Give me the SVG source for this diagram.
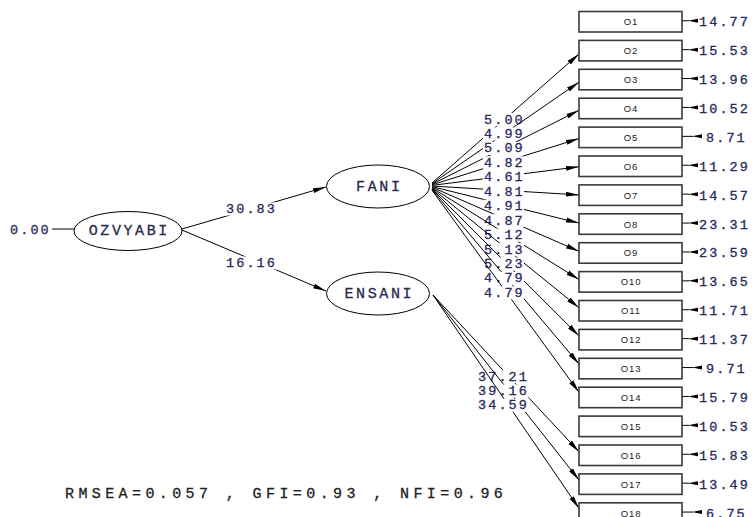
<svg xmlns="http://www.w3.org/2000/svg" width="753" height="517" viewBox="0 0 753 517">
  <style>
    .bg{fill:#ffffff}
    .ell{fill:#ffffff;stroke:#000;stroke-width:1}
    .box{fill:#ffffff;stroke:#3a3a3a;stroke-width:1.6}
    .ln{stroke:#000;stroke-width:1;fill:none}
    .lb{fill:#ffffff}
    .num{font-family:"Liberation Mono","Courier New",monospace;font-size:13.5px;letter-spacing:2.1px;fill:#2a2a5a;stroke:#2a2a5a;stroke-width:0.3px}
    .var{font-family:"Liberation Mono","Courier New",monospace;font-size:15px;letter-spacing:2.6px;fill:#2a2a4a;stroke:#2a2a4a;stroke-width:0.3px}
    .obs{font-family:"Liberation Sans",Arial,sans-serif;font-size:9.5px;letter-spacing:0.9px;fill:#222;text-anchor:middle}
    .fit{font-family:"Liberation Mono","Courier New",monospace;font-size:15px;letter-spacing:4.4px;fill:#222;stroke:#222;stroke-width:0.3px}
    .eh{fill:#000}
  </style>
  <defs>
    <marker id="ah" viewBox="0 0 13 6" refX="13" refY="3" markerWidth="13" markerHeight="6" markerUnits="userSpaceOnUse" orient="auto">
      <path d="M0,0.5 L13,3 L0,5.5 z" fill="#000"/>
    </marker>
  </defs>
  <rect class="bg" x="0" y="0" width="753" height="517"/>

  <!-- connectors: each path is drawn with its label on top, in order -->
  <g id="connectors">
    <line class="ln" x1="52" y1="229" x2="74" y2="229"/>
    <g><line class="ln" x1="182" y1="229" x2="326" y2="187" marker-end="url(#ah)"/>
      <rect class="lb" x="225" y="202.5" width="53" height="13"/>
      <text class="num" x="226" y="213">30.83</text></g>
    <g><line class="ln" x1="182" y1="230" x2="326" y2="291" marker-end="url(#ah)"/>
      <rect class="lb" x="225" y="256.5" width="53" height="13"/>
      <text class="num" x="226" y="267">16.16</text></g>

    <!-- FANI loadings -->
    <g><line class="ln" x1="432" y1="183" x2="579" y2="53.96" marker-end="url(#ah)"/>
      <rect class="lb" x="483" y="113" width="41" height="13"/><text class="num" x="484" y="123.5">5.00</text></g>
    <g><line class="ln" x1="432" y1="183.6" x2="579" y2="82.15" marker-end="url(#ah)"/>
      <rect class="lb" x="483" y="127.45" width="41" height="13"/><text class="num" x="484" y="137.95">4.99</text></g>
    <g><line class="ln" x1="432" y1="184.2" x2="579" y2="110.34" marker-end="url(#ah)"/>
      <rect class="lb" x="483" y="141.9" width="41" height="13"/><text class="num" x="484" y="152.4">5.09</text></g>
    <g><line class="ln" x1="432" y1="184.8" x2="579" y2="138.54" marker-end="url(#ah)"/>
      <rect class="lb" x="483" y="156.35" width="41" height="13"/><text class="num" x="484" y="166.85">4.82</text></g>
    <g><line class="ln" x1="432" y1="185.4" x2="579" y2="166.73" marker-end="url(#ah)"/>
      <rect class="lb" x="483" y="170.8" width="41" height="13"/><text class="num" x="484" y="181.3">4.61</text></g>
    <g><line class="ln" x1="432" y1="186" x2="579" y2="194.92" marker-end="url(#ah)"/>
      <rect class="lb" x="483" y="185.25" width="41" height="13"/><text class="num" x="484" y="195.75">4.81</text></g>
    <g><line class="ln" x1="432" y1="186.6" x2="579" y2="223.11" marker-end="url(#ah)"/>
      <rect class="lb" x="483" y="199.7" width="41" height="13"/><text class="num" x="484" y="210.2">4.91</text></g>
    <g><line class="ln" x1="432" y1="187.2" x2="579" y2="251.31" marker-end="url(#ah)"/>
      <rect class="lb" x="483" y="214.15" width="41" height="13"/><text class="num" x="484" y="224.65">4.87</text></g>
    <g><line class="ln" x1="432" y1="187.8" x2="579" y2="279.5" marker-end="url(#ah)"/>
      <rect class="lb" x="483" y="228.6" width="41" height="13"/><text class="num" x="484" y="239.1">5.12</text></g>
    <g><line class="ln" x1="432" y1="188.4" x2="579" y2="307.69" marker-end="url(#ah)"/>
      <rect class="lb" x="483" y="243.05" width="41" height="13"/><text class="num" x="484" y="253.55">5.13</text></g>
    <g><line class="ln" x1="432" y1="189" x2="579" y2="335.88" marker-end="url(#ah)"/>
      <rect class="lb" x="483" y="257.5" width="41" height="13"/><text class="num" x="484" y="268">5.23</text></g>
    <g><line class="ln" x1="432" y1="189.6" x2="579" y2="364.08" marker-end="url(#ah)"/>
      <rect class="lb" x="483" y="271.95" width="41" height="13"/><text class="num" x="484" y="282.45">4.79</text></g>
    <g><line class="ln" x1="432" y1="190.2" x2="579" y2="392.27" marker-end="url(#ah)"/>
      <rect class="lb" x="483" y="286.4" width="41" height="13"/><text class="num" x="484" y="296.9">4.79</text></g>

    <!-- ENSANI loadings -->
    <g><line class="ln" x1="433" y1="295" x2="579" y2="451.7" marker-end="url(#ah)"/>
      <rect class="lb" x="477" y="370.2" width="53" height="13"/><text class="num" x="478" y="380.7">37.21</text></g>
    <g><line class="ln" x1="433" y1="295" x2="579" y2="480" marker-end="url(#ah)"/>
      <rect class="lb" x="477" y="384.5" width="53" height="13"/><text class="num" x="478" y="395">39.16</text></g>
    <g><line class="ln" x1="433" y1="295" x2="579" y2="508.3" marker-end="url(#ah)"/>
      <rect class="lb" x="477" y="398.8" width="53" height="13"/><text class="num" x="478" y="409.3">34.59</text></g>

    <!-- error terms -->
    <g id="errors">
      <path class="ln" d="M682,20.75H689 M682,49.65H689 M682,78.55H689 M682,107.45H689 M682,136.35H693 M682,165.25H689 M682,194.15H689 M682,223.05H689 M682,251.95H689 M682,280.85H689 M682,309.75H689 M682,338.65H689 M682,367.55H693 M682,396.45H689 M682,425.35H689 M682,454.25H689 M682,483.15H689 M682,512.05H693"/>
      <path class="eh" d="M688,20.75L698,18.75V22.75z M688,49.65L698,47.65V51.65z M688,78.55L698,76.55V80.55z M688,107.45L698,105.45V109.45z M692,136.35L702,134.35V138.35z M688,165.25L698,163.25V167.25z M688,194.15L698,192.15V196.15z M688,223.05L698,221.05V225.05z M688,251.95L698,249.95V253.95z M688,280.85L698,278.85V282.85z M688,309.75L698,307.75V311.75z M688,338.65L698,336.65V340.65z M692,367.55L702,365.55V369.55z M688,396.45L698,394.45V398.45z M688,425.35L698,423.35V427.35z M688,454.25L698,452.25V456.25z M688,483.15L698,481.15V485.15z M692,512.05L702,510.05V514.05z"/>
      <text class="num" x="699" y="26.25">14.77</text>
      <text class="num" x="699" y="55.15">15.53</text>
      <text class="num" x="699" y="84.05">13.96</text>
      <text class="num" x="699" y="112.95">10.52</text>
      <text class="num" x="706" y="141.85">8.71</text>
      <text class="num" x="699" y="170.75">11.29</text>
      <text class="num" x="699" y="199.65">14.57</text>
      <text class="num" x="699" y="228.55">23.31</text>
      <text class="num" x="699" y="257.45">23.59</text>
      <text class="num" x="699" y="286.35">13.65</text>
      <text class="num" x="699" y="315.25">11.71</text>
      <text class="num" x="699" y="344.15">11.37</text>
      <text class="num" x="706" y="373.05">9.71</text>
      <text class="num" x="699" y="401.95">15.79</text>
      <text class="num" x="699" y="430.85">10.53</text>
      <text class="num" x="699" y="459.75">15.83</text>
      <text class="num" x="699" y="488.65">13.49</text>
      <text class="num" x="706" y="517.55">6.75</text>
    </g>
  </g>

  <!-- latent variables -->
  <g id="OZVYABI"><ellipse class="ell" cx="128" cy="231" rx="54" ry="19.5"/><text class="var" x="128" y="235" text-anchor="middle" dx="1.3">OZVYABI</text></g>
  <text class="num" x="10" y="234">0.00</text>
  <g id="FANI"><ellipse class="ell" cx="378" cy="186.5" rx="51.5" ry="21.5"/><text class="var" x="378" y="191" text-anchor="middle" dx="1.3">FANI</text></g>
  <g id="ENSANI"><ellipse class="ell" cx="378" cy="293.5" rx="51.5" ry="21.5"/><text class="var" x="378" y="298" text-anchor="middle" dx="1.3">ENSANI</text></g>

  <!-- observed variables -->
  <g id="O1"><rect class="box" x="579" y="11.5" width="103" height="20.5"/><text class="obs" x="631" y="25.2">O1</text></g>
  <g id="O2"><rect class="box" x="579" y="40.4" width="103" height="20.5"/><text class="obs" x="631" y="54.1">O2</text></g>
  <g id="O3"><rect class="box" x="579" y="69.3" width="103" height="20.5"/><text class="obs" x="631" y="83">O3</text></g>
  <g id="O4"><rect class="box" x="579" y="98.2" width="103" height="20.5"/><text class="obs" x="631" y="111.9">O4</text></g>
  <g id="O5"><rect class="box" x="579" y="127.1" width="103" height="20.5"/><text class="obs" x="631" y="140.8">O5</text></g>
  <g id="O6"><rect class="box" x="579" y="156" width="103" height="20.5"/><text class="obs" x="631" y="169.7">O6</text></g>
  <g id="O7"><rect class="box" x="579" y="184.9" width="103" height="20.5"/><text class="obs" x="631" y="198.6">O7</text></g>
  <g id="O8"><rect class="box" x="579" y="213.8" width="103" height="20.5"/><text class="obs" x="631" y="227.5">O8</text></g>
  <g id="O9"><rect class="box" x="579" y="242.7" width="103" height="20.5"/><text class="obs" x="631" y="256.4">O9</text></g>
  <g id="O10"><rect class="box" x="579" y="271.6" width="103" height="20.5"/><text class="obs" x="631" y="285.3">O10</text></g>
  <g id="O11"><rect class="box" x="579" y="300.5" width="103" height="20.5"/><text class="obs" x="631" y="314.2">O11</text></g>
  <g id="O12"><rect class="box" x="579" y="329.4" width="103" height="20.5"/><text class="obs" x="631" y="343.1">O12</text></g>
  <g id="O13"><rect class="box" x="579" y="358.3" width="103" height="20.5"/><text class="obs" x="631" y="372">O13</text></g>
  <g id="O14"><rect class="box" x="579" y="387.2" width="103" height="20.5"/><text class="obs" x="631" y="400.9">O14</text></g>
  <g id="O15"><rect class="box" x="579" y="416.1" width="103" height="20.5"/><text class="obs" x="631" y="429.8">O15</text></g>
  <g id="O16"><rect class="box" x="579" y="445" width="103" height="20.5"/><text class="obs" x="631" y="458.7">O16</text></g>
  <g id="O17"><rect class="box" x="579" y="473.9" width="103" height="20.5"/><text class="obs" x="631" y="487.6">O17</text></g>
  <g id="O18"><rect class="box" x="579" y="502.8" width="103" height="20.5"/><text class="obs" x="631" y="516.5">O18</text></g>

  <!-- fit statistics -->
  <text class="fit" x="65" y="498">RMSEA=0.057 , GFI=0.93 , NFI=0.96</text>
</svg>
